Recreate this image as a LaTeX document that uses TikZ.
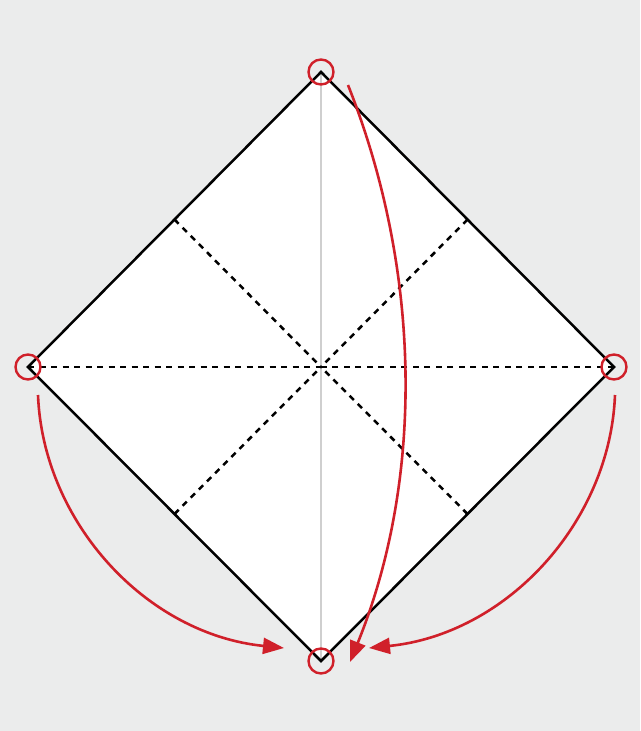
\documentclass[tikz,border=0pt]{standalone}
\usetikzlibrary{arrows.meta}
\definecolor{bgc}{HTML}{EBECEC}
\definecolor{redc}{HTML}{D0202A}
\definecolor{grayc}{HTML}{CFCFCF}
\tikzset{
  edge/.style={line width=2.5pt, black},
  crease/.style={line width=2.5pt, black, dash pattern=on 6pt off 5.5pt},
  mark circle/.style={circle, draw=redc, line width=2.4pt, minimum size=25pt, inner sep=0pt},
  foldarrow/.style={line width=2.6pt, redc, -{Triangle[length=21pt,width=16pt]}},
}
\begin{document}
\begin{tikzpicture}[x=1pt,y=-1pt]
\fill[bgc] (0,0) rectangle (640,731);
\useasboundingbox (0,0) rectangle (640,731);
\coordinate (T) at (321,72);
\coordinate (L) at (28,367);
\coordinate (R) at (614,367);
\coordinate (B) at (321,661);
\coordinate (C) at (321,367);
\fill[white] (T) -- (R) -- (B) -- (L) -- cycle;
\draw[grayc, line width=2pt] (T) -- (B);
\coordinate (mTL) at (174.5,219.5);
\coordinate (mTR) at (467.5,219.5);
\coordinate (mBL) at (174.5,514);
\coordinate (mBR) at (467.5,514);
\draw[crease] (L) -- (C);
\draw[crease] (R) -- (C);
\draw[crease] (mTL) -- (C);
\draw[crease] (mBR) -- (C);
\draw[crease] (mTR) -- (C);
\draw[crease] (mBL) -- (C);
\draw[edge, line join=miter] (T) -- (R) -- (B) -- (L) -- cycle;
\node[mark circle] (cT) at (T) {};
\node[mark circle] (cL) at (L) {};
\node[mark circle] (cR) at (R) {};
\node[mark circle] (cB) at (B) {};
\coordinate (aLs) at (38,395);
\coordinate (aLe) at (284,648);
\coordinate (aRs) at (615,395);
\coordinate (aRe) at (369,648);
\coordinate (aTs) at (348,85);
\coordinate (aTe) at (350,662);
\draw[foldarrow] (aLs) .. controls (43,522) and (146,634) .. (aLe);
\draw[foldarrow] (aRs) .. controls (610,522) and (507,634) .. (aRe);
\draw[foldarrow] (aTs) .. controls (421,269) and (425,477) .. (aTe);
\end{tikzpicture}
\end{document}
